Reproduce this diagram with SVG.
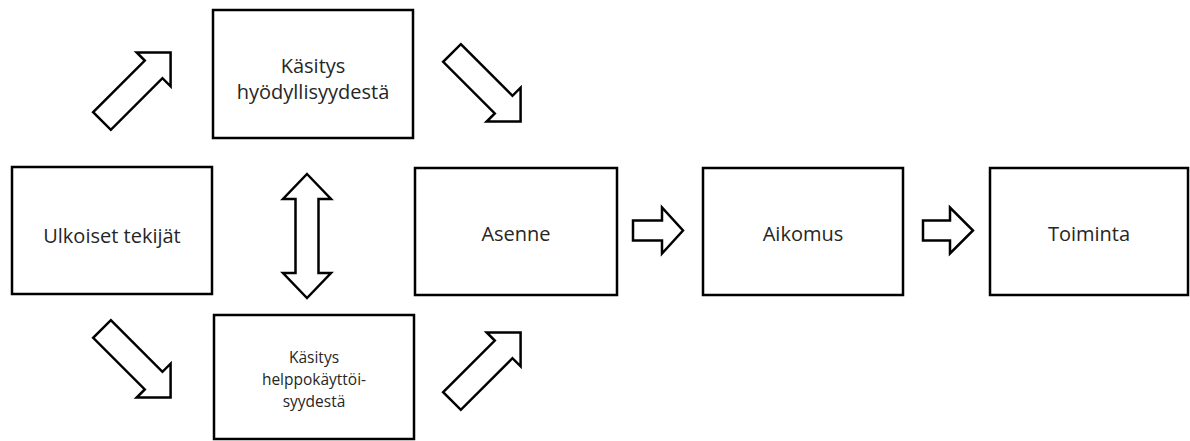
<svg xmlns="http://www.w3.org/2000/svg" width="1190" height="441" viewBox="0 0 1190 441">
  <style>
    .box { fill: #ffffff; stroke: #000000; stroke-width: 2.5; }
    .arrow { fill: #ffffff; stroke: #000000; stroke-width: 2.5; stroke-linejoin: miter; }
    .lbl { font-family: "Open Sans", "Noto Sans", sans-serif; font-size: 20px; fill: #262626; text-anchor: middle; }
    .sm { font-size: 15.5px; }
  </style>
  <defs>
    <path id="diag" d="M0,-12.5 L73,-12.5 L73,-24 L97,0 L73,24 L73,12.5 L0,12.5 Z"/>
  </defs>
  <rect width="1190" height="441" fill="#ffffff"/>

  <g id="connectors">
    <use href="#diag" class="arrow" transform="translate(102,121) rotate(-45)"/>
    <use href="#diag" class="arrow" transform="translate(452,53) rotate(45)"/>
    <use href="#diag" class="arrow" transform="translate(102,329) rotate(45)"/>
    <use href="#diag" class="arrow" transform="translate(452,401) rotate(-45)"/>
    <path class="arrow" d="M307,174 L331,199 L318.5,199 L318.5,273 L331,273 L307,298 L283,273 L295.5,273 L295.5,199 L283,199 Z"/>
    <path class="arrow" d="M633,220.5 H662 V207.5 L683,230.5 L662,253.5 V240.5 H633 Z"/>
    <path class="arrow" d="M923,220.5 H950 V207.5 L973,230.5 L950,253.5 V240.5 H923 Z"/>
  </g>

  <g id="ulkoiset">
    <rect class="box" x="12" y="167" width="200" height="127"/>
    <text class="lbl" x="112" y="243">Ulkoiset tekijät</text>
  </g>
  <g id="hyodyllisyys">
    <rect class="box" x="213" y="10" width="200" height="128"/>
    <text class="lbl" x="313" y="73">Käsitys</text>
    <text class="lbl" x="313" y="99">hyödyllisyydestä</text>
  </g>
  <g id="helppokayttoisyys">
    <rect class="box" x="214" y="315" width="200" height="124"/>
    <text class="lbl sm" x="314" y="363">Käsitys</text>
    <text class="lbl sm" x="314" y="385">helppokäyttöi-</text>
    <text class="lbl sm" x="314" y="407">syydestä</text>
  </g>
  <g id="asenne">
    <rect class="box" x="415" y="168" width="202" height="127"/>
    <text class="lbl" x="516" y="241">Asenne</text>
  </g>
  <g id="aikomus">
    <rect class="box" x="703" y="168" width="200" height="127"/>
    <text class="lbl" x="803" y="241">Aikomus</text>
  </g>
  <g id="toiminta">
    <rect class="box" x="990" y="168" width="198" height="127"/>
    <text class="lbl" x="1089" y="241">Toiminta</text>
  </g>
</svg>
